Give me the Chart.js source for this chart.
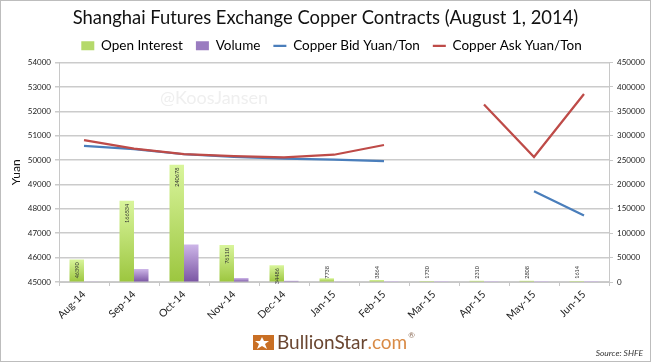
<!DOCTYPE html>
<html>
<head>
<meta charset="utf-8">
<style>
  html, body { margin: 0; padding: 0; background: #fff; }
  canvas { display: block; }
</style>
<script src="https://cdn.jsdelivr.net/npm/chart.js@4"></script>
</head>
<body>
<canvas id="copperChart" width="651" height="362"></canvas>
<script>
const months = ["Aug-14", "Sep-14", "Oct-14", "Nov-14", "Dec-14", "Jan-15", "Feb-15", "Mar-15", "Apr-15", "May-15", "Jun-15"];
const openInterest = [46390, 166534, 240678, 76110, 34486, 7738, 3864, 1730, 2310, 2808, 1614];
const volume = [300, 26500, 77000, 8000, 2500, 300, 200, 100, 100, 100, 100];
const copperBid = [50580, 50450, 50240, 50130, 50060, 50020, 49960, null, null, 48720, 47730];
const copperAsk = [50820, 50470, 50250, 50160, 50110, 50220, 50620, null, 52280, 50130, 52710];

const font = "Lato";

// each bar gets its own top to bottom fade
function barFade(topColor, bottomColor) {
  return function (context) {
    let chart = context.chart;
    if (!chart.chartArea || context.raw == null) return bottomColor;
    let scale = chart.scales.y1;
    let top = scale.getPixelForValue(context.raw);
    let grad = chart.ctx.createLinearGradient(0, top, 0, scale.bottom);
    grad.addColorStop(0, topColor);
    grad.addColorStop(1, bottomColor);
    return grad;
  };
}

// small rotated numbers on the open interest bars
const barLabels = {
  id: "barLabels",
  afterDatasetsDraw(chart) {
    let ctx = chart.ctx;
    let meta = chart.getDatasetMeta(0);
    let bottom = chart.scales.y1.bottom;
    ctx.save();
    ctx.font = "5.5px " + font;
    ctx.fillStyle = "#333";
    ctx.textBaseline = "middle";
    meta.data.forEach(function (bar, i) {
      let tall = bottom - bar.y > 16;
      ctx.save();
      ctx.translate(bar.x, tall ? bar.y + 3 : bottom - 16);
      ctx.rotate(-Math.PI / 2);
      ctx.textAlign = "right";
      ctx.fillText(String(openInterest[i]), 0, 0);
      ctx.restore();
    });
    ctx.restore();
  }
};

// the legend sits a little right of centre in the original
const legendShift = {
  id: "legendShift",
  afterLayout(chart) {
    chart.legend.left += 6;
    chart.legend.right += 6;
  }
};

// frame, watermark, logo and source note
const extras = {
  id: "extras",
  afterDraw(chart) {
    let ctx = chart.ctx;
    ctx.save();
    ctx.strokeStyle = "#bdbdbd";
    ctx.lineWidth = 2;
    ctx.strokeRect(0, 0, 651, 362);

    ctx.textBaseline = "middle";
    ctx.textAlign = "left";
    ctx.fillStyle = "#efefef";
    ctx.font = "18px " + font;
    ctx.fillText("@KoosJansen", 160, 98);

    // logo mark
    ctx.fillStyle = "#c96f24";
    ctx.fillRect(253, 335, 21, 15);
    ctx.fillStyle = "#fff";
    ctx.beginPath();
    ctx.moveTo(262, 337);
    ctx.lineTo(264, 341);
    ctx.lineTo(269, 341);
    ctx.lineTo(265, 344);
    ctx.lineTo(267, 349);
    ctx.lineTo(262, 346);
    ctx.lineTo(257, 349);
    ctx.lineTo(259, 344);
    ctx.lineTo(255, 341);
    ctx.lineTo(260, 341);
    ctx.closePath();
    ctx.fill();

    ctx.font = "19px " + font;
    ctx.fillStyle = "#6a4630";
    ctx.fillText("BullionStar", 277, 343);
    let w = ctx.measureText("BullionStar").width;
    ctx.fillStyle = "#d98a45";
    ctx.fillText(".com", 277 + w, 343);
    let w2 = ctx.measureText(".com").width;
    ctx.font = "8px " + font;
    ctx.fillStyle = "#8a6a55";
    ctx.fillText("®", 277 + w + w2 + 1, 335);

    ctx.font = "italic 8.5px " + font;
    ctx.fillStyle = "#333";
    ctx.textAlign = "right";
    ctx.fillText("Source: SHFE", 643, 353);
    ctx.restore();
  }
};

const legendColors = ["#b5d96a", "#9a7cc0", "#4a7ebb", "#be4b48"];
const legendStyles = ["rect", "rect", "line", "line"];

new Chart(document.getElementById("copperChart"), {
  type: "bar",
  data: {
    labels: months,
    datasets: [
      { label: "Open Interest", data: openInterest, yAxisID: "y1", order: 2, minBarLength: 1,
        backgroundColor: barFade("#d9f59c", "#9cc63f") },
      { label: "Volume", data: volume, yAxisID: "y1", order: 3,
        backgroundColor: barFade("#cdb6e8", "#7a55a3") },
      { type: "line", label: "Copper Bid Yuan/Ton", data: copperBid, yAxisID: "y", order: 1,
        borderColor: "#4a7ebb", backgroundColor: "#4a7ebb", borderWidth: 2.25, pointRadius: 0, tension: 0 },
      { type: "line", label: "Copper Ask Yuan/Ton", data: copperAsk, yAxisID: "y", order: 0,
        borderColor: "#be4b48", backgroundColor: "#be4b48", borderWidth: 2.25, pointRadius: 0, tension: 0 }
    ]
  },
  options: {
    responsive: false,
    animation: false,
    layout: { padding: 0 },
    categoryPercentage: 0.58,
    barPercentage: 1,
    plugins: {
      tooltip: { enabled: false },
      title: {
        display: true,
        text: "Shanghai Futures Exchange Copper Contracts (August 1, 2014)",
        color: "#111",
        font: { family: font, size: 18.4, weight: "normal" },
        padding: { top: 7, bottom: -3 }
      },
      legend: {
        display: true,
        position: "top",
        labels: {
          color: "#222",
          font: { family: font, size: 13.5 },
          usePointStyle: true,
          pointStyleWidth: 13,
          boxHeight: 9,
          padding: 13,
          generateLabels(chart) {
            return chart.data.datasets.map(function (d, i) {
              return { text: d.label, fillStyle: legendColors[i], strokeStyle: legendColors[i],
                lineWidth: i > 1 ? 2.25 : 0, pointStyle: legendStyles[i], datasetIndex: i };
            });
          }
        }
      }
    },
    scales: {
      x: {
        offset: true,
        grid: { offset: true, drawOnChartArea: false, color: "#c8c8c8", tickLength: 4 },
        border: { color: "#c8c8c8" },
        ticks: { color: "#222", font: { family: font, size: 10.5 }, minRotation: 45, maxRotation: 45, autoSkip: false, padding: 2 },
        afterFit(scale) { scale.height = 80; }
      },
      y: {
        position: "left",
        min: 45000,
        max: 54000,
        grid: { color: "#cbcbcb", lineWidth: 1.5, tickLength: 4 },
        border: { color: "#c8c8c8" },
        ticks: { color: "#222", font: { family: font, size: 8 }, stepSize: 1000, padding: 4,
          callback: function (v) { return String(v); } },
        title: { display: true, text: "Yuan", color: "#111", font: { family: font, size: 12 }, padding: { top: 9, bottom: 0 } },
        afterFit(scale) { scale.width = 59; }
      },
      y1: {
        position: "right",
        min: 0,
        max: 450000,
        grid: { drawOnChartArea: false, color: "#c8c8c8", tickLength: 4 },
        border: { color: "#c8c8c8" },
        ticks: { color: "#222", font: { family: font, size: 8 }, stepSize: 50000, padding: 4,
          callback: function (v) { return String(v); } },
        afterFit(scale) { scale.width = 42; }
      }
    }
  },
  plugins: [barLabels, legendShift, extras]
});
</script>
</body>
</html>
